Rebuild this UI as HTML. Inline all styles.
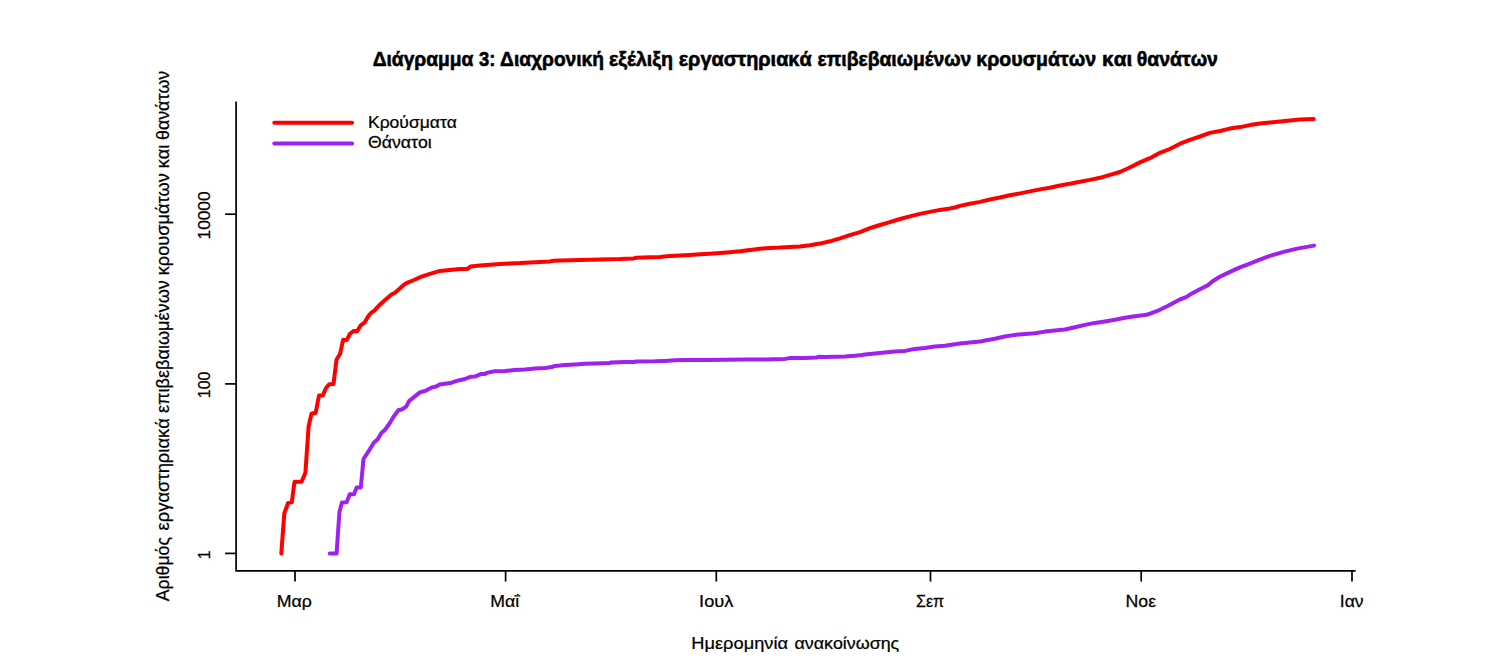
<!DOCTYPE html>
<html><head><meta charset="utf-8"><style>html,body{margin:0;padding:0;background:#fff;width:1492px;height:664px;overflow:hidden}</style></head>
<body>
<svg width="1492" height="664" viewBox="0 0 1492 664" style="display:block">
<rect width="1492" height="664" fill="#ffffff"/>
<g stroke="#000" stroke-width="1.7" fill="none" stroke-linecap="butt" stroke-linejoin="miter">
<path d="M236.1,101.4 L236.1,570.9 L1355.6,570.9"/>
<path d="M295,570.9 L295,581.6"/>
<path d="M505.6,570.9 L505.6,581.6"/>
<path d="M716.3,570.9 L716.3,581.6"/>
<path d="M930.5,570.9 L930.5,581.6"/>
<path d="M1141.2,570.9 L1141.2,581.6"/>
<path d="M1352,570.9 L1352,581.6"/>
<path d="M225.1,553.4 L236.1,553.4"/>
<path d="M225.1,383.9 L236.1,383.9"/>
<path d="M225.1,214.2 L236.1,214.2"/>
</g>
<path d="M281.3,553.5 L284.3,513.5 L288.1,502.9 L291.8,502.2 L294.5,481.8 L301.6,481.8 L305.4,472.8 L308.6,426.3 L311.5,413.8 L315.7,412.7 L319.0,395.6 L322.8,395.5 L326.0,388.0 L329.4,384.2 L333.5,384.0 L336.5,359.8 L340.1,353.8 L343.1,339.8 L346.9,339.9 L349.8,334.0 L353.5,331.0 L357.2,331.2 L360.7,325.3 L364.4,322.7 L368.1,316.4 L371.3,312.7 L374.4,310.6 L378.7,305.8 L384.5,300.6 L391.8,294.2 L395.0,292.7 L404.5,284.2 L407.6,282.6 L414.0,280.0 L420.0,277.2 L429.9,273.8 L439.9,270.9 L449.8,270.0 L460.0,269.1 L467.2,269.1 L470.4,266.6 L479.9,265.5 L489.8,264.8 L500.0,264.0 L509.9,263.4 L519.9,263.1 L529.8,262.4 L540.0,261.9 L549.9,261.4 L553.6,260.7 L559.9,260.5 L569.8,260.3 L580.0,259.9 L599.9,259.6 L620.0,259.1 L633.6,258.4 L636.3,257.8 L649.8,257.3 L660.0,256.9 L666.8,256.3 L679.9,255.4 L689.8,254.9 L700.0,254.3 L709.9,253.8 L719.9,253.1 L729.8,252.2 L740.0,251.3 L749.9,249.9 L759.9,248.8 L769.8,247.9 L780.0,247.6 L789.9,247.0 L799.9,246.4 L809.8,245.2 L820.0,243.6 L829.9,241.3 L839.9,238.4 L849.8,235.2 L860.0,232.1 L869.9,228.2 L879.9,225.0 L889.8,222.1 L900.0,219.0 L909.9,216.4 L919.9,213.9 L929.8,211.9 L940.0,209.9 L949.9,208.4 L954.9,207.5 L959.9,205.9 L969.8,203.7 L980.0,201.9 L989.9,199.5 L999.9,197.5 L1009.8,195.2 L1020.0,193.4 L1029.9,191.4 L1039.9,189.4 L1049.8,187.8 L1060.0,185.5 L1069.9,183.7 L1079.9,181.7 L1089.8,179.9 L1100.0,177.8 L1109.9,174.8 L1119.9,172.0 L1129.8,167.5 L1140.0,162.4 L1149.9,158.2 L1159.9,152.8 L1169.8,149.0 L1180.0,143.7 L1189.9,139.9 L1199.9,136.5 L1209.8,132.9 L1220.0,131.0 L1229.8,128.6 L1240.0,127.1 L1249.9,125.1 L1259.9,123.6 L1269.8,122.5 L1280.0,121.5 L1289.9,120.4 L1299.9,119.6 L1313.7,119.1" fill="none" stroke="#ff0000" stroke-width="4" stroke-linejoin="round" stroke-linecap="round"/>
<path d="M329.8,553.5 L336.6,553.5 L339.4,512.3 L341.9,502.5 L346.6,502.2 L349.8,494.3 L354.0,494.3 L356.6,487.6 L360.8,487.4 L363.5,459.0 L369.8,449.3 L374.0,442.5 L377.7,439.3 L381.4,433.0 L385.0,429.8 L389.8,423.0 L393.0,417.7 L398.2,410.3 L402.4,409.2 L406.1,406.6 L409.3,400.8 L414.0,397.1 L419.8,392.4 L425.0,391.0 L431.8,387.4 L436.3,386.5 L439.5,384.5 L450.3,383.1 L456.6,380.9 L465.0,379.0 L470.4,376.8 L474.9,376.6 L480.8,374.1 L484.9,373.9 L487.6,372.6 L494.8,371.2 L505.0,371.0 L514.9,370.0 L524.9,369.4 L534.8,368.5 L545.0,368.0 L551.8,367.1 L554.9,365.9 L564.9,365.0 L574.8,364.4 L585.0,363.8 L594.9,363.6 L609.4,363.1 L611.2,362.4 L625.0,362.0 L634.0,362.0 L636.7,361.4 L654.8,361.3 L665.0,360.9 L674.9,360.3 L684.9,360.0 L694.8,359.9 L705.0,359.9 L724.9,359.8 L745.0,359.6 L764.9,359.4 L785.0,358.9 L789.5,358.1 L804.9,357.9 L816.6,357.5 L819.3,356.8 L825.0,356.9 L844.9,356.4 L854.8,355.7 L862.1,355.0 L865.0,354.6 L874.9,353.5 L884.9,352.4 L894.8,351.5 L905.0,350.9 L914.9,348.9 L924.9,348.0 L934.8,346.5 L945.0,345.7 L959.9,343.6 L980.0,341.6 L985.0,340.5 L994.9,338.7 L1004.9,336.5 L1014.8,334.9 L1025.0,333.9 L1034.9,333.2 L1044.9,331.6 L1054.8,330.5 L1065.0,329.5 L1074.9,327.2 L1084.9,324.9 L1094.8,322.9 L1105.0,321.4 L1114.9,319.8 L1124.9,317.8 L1134.8,316.2 L1145.0,315.1 L1150.0,313.7 L1156.8,311.2 L1168.1,305.8 L1179.8,299.5 L1186.1,297.2 L1190.0,294.6 L1199.9,289.2 L1208.1,285.1 L1212.6,281.3 L1219.8,276.8 L1230.0,271.9 L1239.9,267.4 L1249.9,263.6 L1259.8,259.7 L1270.0,255.8 L1283.6,251.9 L1297.1,248.6 L1314.0,245.6" fill="none" stroke="#a020f0" stroke-width="4" stroke-linejoin="round" stroke-linecap="round"/>
<path d="M274.3,122.7 L352.1,122.7" stroke="#ff0000" stroke-width="4" stroke-linecap="round"/>
<path d="M274.3,143.4 L352.1,143.4" stroke="#a020f0" stroke-width="4" stroke-linecap="round"/>
<g font-family='"Liberation Sans", sans-serif' fill="#000" style="font-kerning:none">
<text transform="translate(372.66,65.5) scale(0.9254,1)" font-size="20.8" font-weight="bold" stroke="#000" stroke-width="0.6">Διάγραμμα</text>
<text transform="translate(479.02,65.5) scale(0.8840,1)" font-size="20.8" font-weight="bold" stroke="#000" stroke-width="0.6">3:</text>
<text transform="translate(500.10,65.5) scale(0.9219,1)" font-size="20.8" font-weight="bold" stroke="#000" stroke-width="0.6">Διαχρονική</text>
<text transform="translate(608.89,65.5) scale(0.9467,1)" font-size="20.8" font-weight="bold" stroke="#000" stroke-width="0.6">εξέλιξη</text>
<text transform="translate(678.64,65.5) scale(0.9569,1)" font-size="20.8" font-weight="bold" stroke="#000" stroke-width="0.6">εργαστηριακά</text>
<text transform="translate(817.39,65.5) scale(0.9291,1)" font-size="20.8" font-weight="bold" stroke="#000" stroke-width="0.6">επιβεβαιωμένων</text>
<text transform="translate(976.35,65.5) scale(0.9400,1)" font-size="20.8" font-weight="bold" stroke="#000" stroke-width="0.6">κρουσμάτων</text>
<text transform="translate(1102.12,65.5) scale(0.9959,1)" font-size="20.8" font-weight="bold" stroke="#000" stroke-width="0.6">και</text>
<text transform="translate(1136.64,65.5) scale(0.9374,1)" font-size="20.8" font-weight="bold" stroke="#000" stroke-width="0.6">θανάτων</text>
<text transform="translate(367.96,128.0) scale(1.0430,1)" font-size="16.8" font-weight="normal" stroke="#000" stroke-width="0.25">Κρούσματα</text>
<text transform="translate(367.94,148.0) scale(1.0536,1)" font-size="16.8" font-weight="normal" stroke="#000" stroke-width="0.25">Θάνατοι</text>
<text transform="translate(691.33,649.0) scale(1.0485,1)" font-size="17.4" font-weight="normal" stroke="#000" stroke-width="0.25">Ημερομηνία</text>
<text transform="translate(794.38,649.0) scale(1.0272,1)" font-size="17.4" font-weight="normal" stroke="#000" stroke-width="0.25">ανακοίνωσης</text>
<text transform="translate(276.74,606.9) scale(1.0209,1)" font-size="17.4" font-weight="normal" stroke="#000" stroke-width="0.25">Μαρ</text>
<text transform="translate(490.31,606.9) scale(1.0151,1)" font-size="17.4" font-weight="normal" stroke="#000" stroke-width="0.25">Μαΐ</text>
<text transform="translate(699.09,606.9) scale(1.0468,1)" font-size="17.4" font-weight="normal" stroke="#000" stroke-width="0.25">Ιουλ</text>
<text transform="translate(915.96,606.9) scale(0.9280,1)" font-size="17.4" font-weight="normal" stroke="#000" stroke-width="0.25">Σεπ</text>
<text transform="translate(1125.50,606.9) scale(1.0177,1)" font-size="17.4" font-weight="normal" stroke="#000" stroke-width="0.25">Νοε</text>
<text transform="translate(1339.76,606.9) scale(1.0080,1)" font-size="17.4" font-weight="normal" stroke="#000" stroke-width="0.25">Ιαν</text>
<text transform="translate(210.0,559.24) rotate(-90) scale(0.8970,1)" font-size="17.4" font-weight="normal" stroke="#000" stroke-width="0.25">1</text>
<text transform="translate(210.0,398.13) rotate(-90) scale(0.9130,1)" font-size="17.4" font-weight="normal" stroke="#000" stroke-width="0.25">100</text>
<text transform="translate(210.0,239.41) rotate(-90) scale(0.9919,1)" font-size="17.4" font-weight="normal" stroke="#000" stroke-width="0.25">10000</text>
<text transform="translate(168.6,601.22) rotate(-90) scale(0.9832,1)" font-size="18.0" font-weight="normal" stroke="#000" stroke-width="0.25">Αριθμός</text>
<text transform="translate(168.6,530.42) rotate(-90) scale(1.0215,1)" font-size="18.0" font-weight="normal" stroke="#000" stroke-width="0.25">εργαστηριακά</text>
<text transform="translate(168.6,412.99) rotate(-90) scale(1.0064,1)" font-size="18.0" font-weight="normal" stroke="#000" stroke-width="0.25">επιβεβαιωμένων</text>
<text transform="translate(168.6,275.21) rotate(-90) scale(1.0098,1)" font-size="18.0" font-weight="normal" stroke="#000" stroke-width="0.25">κρουσμάτων</text>
<text transform="translate(168.6,168.29) rotate(-90) scale(1.0019,1)" font-size="18.0" font-weight="normal" stroke="#000" stroke-width="0.25">και</text>
<text transform="translate(168.6,139.99) rotate(-90) scale(0.9895,1)" font-size="18.0" font-weight="normal" stroke="#000" stroke-width="0.25">θανάτων</text>
</g>
</svg>
</body></html>
